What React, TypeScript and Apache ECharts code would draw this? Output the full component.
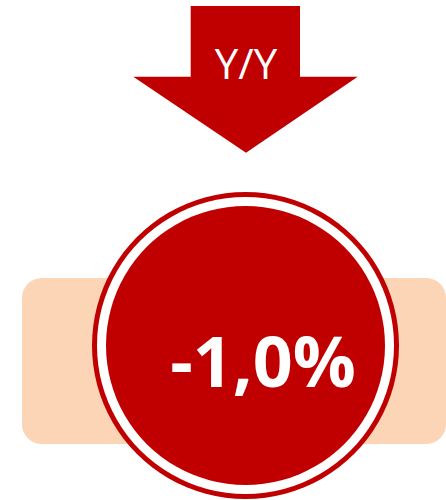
import React, { useEffect, useRef } from "react";
import * as echarts from "echarts";

const metricLabels: string[] = ["Y/Y"];
const metricValues: number[] = [-1.0];

const RED = "#C00000";
const PEACH = "#FBD5B5";

function formatPct(v: number): string {
  return v.toFixed(1).replace(".", ",") + "%";
}

export default function App() {
  const ref = useRef<HTMLDivElement | null>(null);
  useEffect(() => {
    if (!ref.current) return;
    const chart = echarts.init(ref.current, null, { renderer: "svg" });
    const cx = 245.5;
    const cy = 345.5;
    chart.setOption({
      animation: false,
      backgroundColor: "#ffffff",
      graphic: [
        {
          type: "rect",
          shape: { x: 22, y: 278, width: 424, height: 166, r: 20 },
          style: { fill: PEACH },
          z: 1,
        },
        {
          type: "polygon",
          shape: {
            points: [
              [190.7, 6],
              [300, 6],
              [300, 76.7],
              [357.7, 76.7],
              [246, 152.7],
              [133.3, 76.7],
              [190.7, 76.7],
            ],
          },
          style: { fill: RED },
          z: 2,
        },
        {
          type: "text",
          x: 246,
          y: 62,
          style: {
            text: metricLabels[0],
            fill: "#ffffff",
            fontFamily: "Open Sans",
            fontSize: 42,
            fontWeight: "normal",
            align: "center",
            verticalAlign: "middle",
          },
          z: 3,
        },
        {
          type: "circle",
          shape: { cx, cy, r: 153.5 },
          style: { fill: RED },
          z: 4,
        },
        {
          type: "circle",
          shape: { cx, cy, r: 148.5 },
          style: { fill: "#ffffff" },
          z: 5,
        },
        {
          type: "circle",
          shape: { cx, cy, r: 139.5 },
          style: { fill: RED },
          z: 6,
        },
        {
          type: "text",
          x: 263,
          y: 360,
          style: {
            text: formatPct(metricValues[0]),
            fill: "#ffffff",
            fontFamily: "Open Sans",
            fontSize: 70,
            fontWeight: "bold",
            align: "center",
            verticalAlign: "middle",
          },
          z: 7,
        },
      ],
    });
    return () => chart.dispose();
  }, []);
  return (
    <div
      ref={ref}
      style={{ position: "fixed", left: 0, top: 0, width: 446, height: 500 }}
    />
  );
}
